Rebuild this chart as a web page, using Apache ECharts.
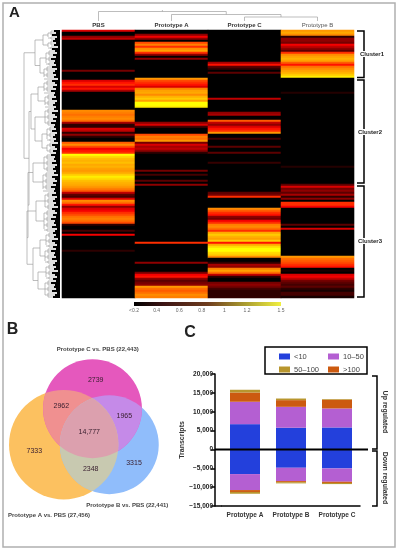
<!DOCTYPE html>
<html><head><meta charset="utf-8">
<style>html,body{margin:0;padding:0;background:#fff}#c{width:397px;height:550px;filter:blur(0.35px)}</style>
<script src="https://cdn.jsdelivr.net/npm/echarts@6/dist/echarts.min.js"></script>
</head><body><div id="c"></div>
<script>
// ---------- Panel A: heat map (rows not listed are 0) ----------
const heatColumns = ['PBS', 'Prototype A', 'Prototype C', 'Prototype B'];
const rowCount = 134;
const heatPBS = [[0,.45],[3,.3],[4,.4],[20,.25],[25,.45],[26,.55],[27,.6],[28,.45],[29,.55],[30,.35],
 [40,.85],[41,.8],[42,.75],[43,.8],[44,.85],[45,.75],[46,.35],[47,.1],[48,.1],[49,.45],[50,.4],[51,.1],[52,.3],[53,.1],
 [56,.7],[57,.85],[58,.65],[59,.5],[60,.55],[61,.6],[62,1.3],[63,1.2],[64,1.1],[65,1.05],[66,1.1],[67,1.0],[68,1.05],[69,.95],
 [70,.9],[71,1.0],[72,1.15],[73,1.25],[74,1.2],[75,1.1],[76,1.05],[77,1.0],[78,.9],[79,.8],[80,.7],[81,.4],[82,.2],[83,.15],
 [84,.45],[85,.85],[86,.75],[87,.55],[88,.3],[89,.45],[90,.5],[91,.6],[92,.65],[93,.75],[94,.8],[95,.75],[96,.65],[97,.1],
 [100,.15],[102,.5],[110,.1]];
const heatA = [[2,.3],[3,.5],[4,.3],[6,.65],[7,.8],[8,.6],[9,.85],[10,.95],[11,.6],[12,.3],[14,.3],
 [24,.9],[25,.65],[26,.6],[27,.55],[28,.45],[29,.8],[30,.95],[31,1.0],[32,.85],[33,1.05],[34,1.15],[35,.95],[36,1.3],[37,1.3],[38,1.25],
 [46,.3],[47,.45],[48,.15],[52,.65],[53,.8],[54,.75],[55,.9],[56,.25],[57,.45],[58,.35],[59,.4],[60,.3],[61,.1],
 [70,.25],[72,.15],[75,.2],[77,.3],[106,.6],[116,.3],[121,.25],[122,.5],[123,.55],[124,.3],[125,.2],[126,.25],[127,.3],
 [128,.9],[129,.75],[130,.7],[131,.75],[132,.85],[133,.8]];
const heatC = [[16,.35],[17,.55],[18,.2],[19,.12],[21,.2],[34,.4],[41,.3],[42,.35],[45,.7],[46,.4],[47,.3],[48,.45],[49,.55],[50,.6],[51,.9],
 [54,.15],[58,.2],[61,.2],[66,.12],[81,.2],[82,.25],[83,.6],[89,.85],[90,.7],[91,.6],[92,.55],[93,.3],[94,.25],[95,.5],[96,.6],
 [97,.8],[98,.85],[99,.75],[100,.6],[101,1.0],[102,1.15],[103,1.05],[104,.95],[105,1.15],[106,.55],[107,1.0],[108,1.2],[109,1.3],[110,1.3],[111,1.2],[112,1.15],[113,.85],
 [116,.1],[117,.35],[118,.3],[119,.8],[120,.95],[121,.75],[122,.4],[123,.1],[126,.25],[127,.3],[128,.25],[129,.15],[130,.1],[131,.1],[132,.1],[133,.1]];
const heatB = [[0,.9],[1,1.0],[2,.85],[3,.1],[4,.3],[5,.3],[6,.25],[7,.5],[8,.4],[9,.3],[10,.2],[11,.6],[12,.85],[13,.95],[14,1.05],[15,.95],
 [16,.7],[17,.55],[18,.75],[19,.85],[20,.95],[21,1.05],[22,1.15],[23,1.25],[31,.08],[68,.08],[77,.2],[78,.45],[79,.25],[80,.3],[81,.2],[82,.35],[83,.1],[84,.3],
 [86,.6],[87,.6],[88,.5],[97,.2],[99,.45],[113,.9],[114,.75],[115,.7],[116,.65],[117,.6],[118,.55],[120,.05],
 [122,.45],[123,.5],[124,.4],[125,.25],[126,.2],[127,.15],[128,.2],[129,.1],[130,.05],[131,.15],[132,.15],[133,.05]];
const heatRamp = ['#000000','#3a0000','#7a0000','#bb0000','#ff0000','#ff4a00','#ff7a00','#ff9a00','#ffb000','#ffd000','#ffff00'];
const legendTicks = [0.2,0.4,0.6,0.8,1,1.2,1.5];

// ---------- dendrograms: [height, childA, childB], leaves are columns / row groups ----------
const topTree = [9.5, 0, [6.5, 1, [4, 2, 3]]];
const leftTree = [24,
  [35, [43,[48,0,4],[48,5,9]], [40,[46,10,17],[44,18,24]]],
  [29,
    [31, [38,[44,25,31],[45,32,38]], [35,[45,39,47],[42,[47,48,55],[47,56,61]]]],
    [28, [33,[44,62,70],[43,71,80]], [27,[36,[45,81,89],[44,90,100]], [33,[40,[46,101,108],[45,109,116]],[38,[46,117,124],[45,125,133]]]]]
  ]];
const leafEdge = [54,56,52,57,55,53,56,54,58,52,55,57,53,56,51,55];

// ---------- Panel B: Venn ----------
const vennNames = ['Prototype A vs. PBS (27,456)','Prototype B vs. PBS (22,441)','Prototype C vs. PBS (22,443)'];
const vennTotals = [27456,22441,22443];
const vennCenters = [[63.7,444.7],[109.3,444.7],[92.5,408.7]];
const vennCounts = ['2739','2962','1965','14,777','7333','3315','2348'];
const vennCountAt = [[95.7,379.7],[61.3,406],[124.3,416],[89.3,432.3],[34.3,451],[134,463.3],[90.7,469]];

// ---------- Panel C: stacked bars ----------
const barCategories = ['Prototype A','Prototype B','Prototype C'];
const up10 = [6700,5750,5830];
const up50 = [5940,5550,5040];
const upOver100 = [2460,1770,2300];
const up100 = [720,430,180];
const down10 = [-6540,-4860,-5040];
const down50 = [-4240,-3540,-3530];
const downOver100 = [-500,-300,-320];
const down100 = [-470,-300,-300];
const barNames = ['<10','10–50','50–100','>100'];
const barColors = {'<10':'#2340dc','10–50':'#b45fd2','50–100':'#b8962e','>100':'#cc5a10'};
const yTicksC = {min:-15000,max:20000,step:5000};

const FONT = '"Liberation Sans", Arial, sans-serif';

// ---- helpers turning the trees into line segments ----
function treeTop(node, out){
  if (typeof node === 'number') return node + 0.5;
  const a = treeTop(node[1],out), b = treeTop(node[2],out), h = node[0];
  const ha = typeof node[1]==='number'?0:node[1][0], hb = typeof node[2]==='number'?0:node[2][0];
  out.push([a,h,b,h],[a,h,a,ha],[b,h,b,hb]);
  return (a+b)/2;
}
const topSegs = []; const topMid = treeTop(topTree,topSegs); topSegs.push([topMid,topTree[0],topMid,11]);
function treeLeft(node,out){
  if (node.length===3 && typeof node[1]==='number'){
    const x=node[0], s=node[1], e=node[2], sub=x+3;
    out.push([x,s+1.5,x,e-.5,0]);
    for(let t=s;t<=e;t+=3){
      const last=Math.min(t+2,e), mid=(t+last+1)/2;
      out.push([x,mid,sub,mid,0],[sub,t+.5,sub,last+.5,0]);
      for(let r=t;r<=last;r++){
        const edge=leafEdge[r%leafEdge.length];
        out.push([sub,r+.5,edge,r+.5,0],[edge,r+.5,60,r+.5,1]);
      }
    }
    return (s+e+1)/2;
  }
  const x=node[0], a=treeLeft(node[1],out), b=treeLeft(node[2],out);
  out.push([x,a,x,b,0],[x,a,node[1][0],a,0],[x,b,node[2][0],b,0]);
  return (a+b)/2;
}
const leftSegs=[]; treeLeft(leftTree,leftSegs);

function heatData(){
  const d=[];
  [heatPBS,heatA,heatC,heatB].forEach((col,c)=>{
    const m=new Map(col);
    for(let r=0;r<rowCount;r++) d.push([c,r,m.has(r)?m.get(r):0]);
  });
  return d;
}
const rows=[]; for(let r=0;r<rowCount;r++) rows.push(String(r));

function lineRender(params,api){
  const p1=api.coord([api.value(0),api.value(1)]), p2=api.coord([api.value(2),api.value(3)]);
  const dark=api.value(4)===1;
  return {type:'line',shape:{x1:p1[0],y1:p1[1],x2:p2[0],y2:p2[1]},
    style:{stroke:dark?'#000':'#a0a0a0',lineWidth:dark?2:0.7}};
}

// ---- Venn region drawing ----
const VC={A:'#fcc160',B:'#90bdfb',C:'#e558bd',AC:'#f09090',BC:'#c58ae8',AB:'#c8c9b0',ABC:'#dca0ae'};
function vennRender(params,api){
  const shape=i=>{const c=api.coord(vennCenters[i]);
    const ref=api.coord([0,0]), unit=api.coord([1,0])[0]-ref[0];
    return {cx:c[0],cy:c[1],r:Math.sqrt(vennTotals[i])*0.33*unit};};
  const s=[shape(0),shape(1),shape(2)];
  const disc=(i,color,clip)=>{const e={type:'circle',shape:s[i],style:{fill:color}};
    if(clip!==undefined)e.clipPath={type:'circle',shape:s[clip]};return e;};
  const children=[disc(0,VC.A),disc(1,VC.B),disc(2,VC.C),
    disc(0,VC.AC,2),disc(1,VC.BC,2),disc(0,VC.AB,1),
    {type:'group',clipPath:{type:'circle',shape:s[2]},children:[disc(0,VC.ABC,1)]}];
  vennCounts.forEach((t,i)=>{const p=api.coord(vennCountAt[i]);
    children.push({type:'text',style:{text:t,x:p[0],y:p[1],align:'center',verticalAlign:'middle',fill:'#3a2030',font:'7px '+FONT}});});
  return {type:'group',children};
}

const bracket=(pts)=>({type:'polyline',shape:{points:pts},style:{fill:null,stroke:'#000',lineWidth:1.5},z:10});
const label=(t,x,y,size,w,fill,rot,bg)=>({type:'text',x,y,rotation:rot||0,z:11,style:{text:t,align:'center',verticalAlign:'middle',fill:fill||'#222',font:(w||'bold')+' '+size+'px '+FONT,backgroundColor:bg||'transparent'}});

const stack='t';
const barSeries=(name,data)=>({type:'bar',name,data,stack,xAxisIndex:4,yAxisIndex:4,barWidth:30,
  itemStyle:{color:barColors[name]},animation:false});

const option={
  animation:false,
  textStyle:{fontFamily:FONT},
  visualMap:{show:false,seriesIndex:0,dimension:2,min:0,max:1.3,inRange:{color:heatRamp}},
  legend:[
    {data:['<10','50–100'],orient:'vertical',left:274,top:347.5,itemWidth:11,itemHeight:6,itemGap:5,
     textStyle:{fontSize:7.5,color:'#444',padding:[0,0,0,-1]},selectedMode:false,icon:'rect'},
    {data:['10–50','>100'],orient:'vertical',left:323,top:347.5,itemWidth:11,itemHeight:6,itemGap:5,
     textStyle:{fontSize:7.5,color:'#444',padding:[0,0,0,-1]},selectedMode:false,icon:'rect'}
  ],
  grid:[
    {left:62,top:30,width:292,height:268},                     // heat
    {left:62,top:10,width:292,height:11},                      // top dendrogram
    {left:20,top:30,width:40,height:268},                      // left dendrogram
    {left:0,top:300,width:200,height:250},                     // venn (1 unit = 1 px)
    {left:222,top:374,width:138,height:132},                   // bars
    {left:134,top:302,width:147,height:4,show:true,borderWidth:0,   // colour scale
     backgroundColor:new echarts.graphic.LinearGradient(0,0,1,0,[
       {offset:0,color:'#000'},{offset:.2,color:'#3c1414'},{offset:.5,color:'#6e3c1e'},{offset:.75,color:'#a89a30'},{offset:1,color:'#f0f040'}])}
  ],
  xAxis:[
    {gridIndex:0,type:'category',position:'top',data:heatColumns,axisLine:{show:false},axisTick:{show:false},
     axisLabel:{margin:2,interval:0,formatter:v=>v==='Prototype B'?`{l|${v}}`:`{b|${v}}`,
       rich:{b:{fontSize:6,fontWeight:'bold',color:'#333'},l:{fontSize:6,color:'#555'}}}},
    {gridIndex:1,type:'value',min:0,max:4,show:false},
    {gridIndex:2,type:'value',min:20,max:60,show:false},
    {gridIndex:3,type:'value',min:0,max:200,show:false},
    {gridIndex:4,type:'category',data:barCategories,position:'bottom',axisLine:{onZero:false,lineStyle:{color:'#000',width:1.5}},
     axisTick:{alignWithLabel:true,length:4,lineStyle:{color:'#000',width:1.5}},
     axisLabel:{fontSize:6.5,fontWeight:'bold',color:'#333',margin:6,interval:0}},
    {gridIndex:5,type:'value',min:0.2,max:1.5,position:'bottom',axisLine:{show:false},axisTick:{show:false},splitLine:{show:false},
     axisLabel:{customValues:legendTicks,fontSize:5,color:'#666',margin:2,hideOverlap:false,showMinLabel:true,showMaxLabel:true,
       formatter:v=>v===0.2?'<0.2':String(v)}}
  ],
  yAxis:[
    {gridIndex:0,type:'category',data:rows,inverse:true,show:false},
    {gridIndex:1,type:'value',min:0,max:11,show:false},
    {gridIndex:2,type:'value',min:0,max:134,inverse:true,show:false},
    {gridIndex:3,type:'value',min:300,max:550,inverse:true,show:false},
    {gridIndex:4,type:'value',min:yTicksC.min,max:yTicksC.max,interval:yTicksC.step,offset:7,
     name:'Transcripts',nameLocation:'middle',nameGap:28,nameTextStyle:{fontSize:7,fontWeight:'bold',color:'#333'},
     axisLine:{show:true,onZero:false,lineStyle:{color:'#000',width:1.5}},axisTick:{show:true,length:4,lineStyle:{color:'#000',width:1.5}},
     splitLine:{show:false},
     axisLabel:{fontSize:6.5,fontWeight:'bold',color:'#222',margin:2,
       formatter:v=>(v<0?'−':'')+Math.abs(v).toLocaleString('en-US')}},
    {gridIndex:5,type:'category',data:['s'],show:false}
  ],
  series:[
    {type:'heatmap',xAxisIndex:0,yAxisIndex:0,data:heatData(),itemStyle:{borderWidth:0},progressive:0,animation:false},
    {type:'custom',xAxisIndex:1,yAxisIndex:1,data:topSegs.map(s=>[...s,0]),renderItem:lineRender,clip:false,silent:true},
    {type:'custom',xAxisIndex:2,yAxisIndex:2,data:leftSegs,renderItem:lineRender,clip:false,silent:true,progressive:0},
    {type:'custom',xAxisIndex:3,yAxisIndex:3,data:[[0,0]],renderItem:vennRender,clip:false,silent:true},
    barSeries('<10',up10),barSeries('10–50',up50),barSeries('>100',upOver100),barSeries('50–100',up100),
    barSeries('<10',down10),barSeries('10–50',down50),barSeries('>100',downOver100),barSeries('50–100',down100)
  ],
  graphic:{elements:[
    {type:'rect',shape:{x:3,y:3,width:392,height:544},style:{fill:null,stroke:'#b0b0b0',lineWidth:1.5},z:0},
    label('A',14.5,12.5,15),label('B',12.5,330,16),label('C',190,332.5,16),
    // cluster brackets
    bracket([[357,31],[364,31],[364,77.5],[357,77.5]]),
    bracket([[357,80],[364,80],[364,183],[357,183]]),
    bracket([[357,186],[364,186],[364,297],[357,297]]),
    label('Cluster1',372,54,6,'bold','#222',0,'#fff'),label('Cluster2',370,132,6,'bold','#222',0,'#fff'),label('Cluster3',370,241,6,'bold','#222',0,'#fff'),
    // venn titles
    label(vennNames[2],97.7,349.3,6,'bold','#444'),
    label(vennNames[1],127.3,505,6,'bold','#444'),
    label(vennNames[0],49,515.3,6,'bold','#444'),
    // panel C furniture
    {type:'rect',shape:{x:265,y:347,width:102,height:27},style:{fill:null,stroke:'#000',lineWidth:1.5},z:10},
    {type:'line',shape:{x1:215,y1:449.4,x2:368,y2:449.4},style:{stroke:'#000',lineWidth:2},z:10},
    {type:'line',shape:{x1:215,y1:506,x2:222,y2:506},style:{stroke:'#000',lineWidth:1.5},z:10},
    bracket([[372,376],[377,376],[377,449],[372,449]]),
    bracket([[372,451],[377,451],[377,506],[372,506]]),
    label('Up regulated',385,412,7,'bold','#333',-Math.PI/2),
    label('Down regulated',385,478,7,'bold','#333',-Math.PI/2)
  ]}
};
const chart=echarts.init(document.getElementById('c'),null,{renderer:'canvas',width:397,height:550});
chart.setOption(option);
</script></body></html>
